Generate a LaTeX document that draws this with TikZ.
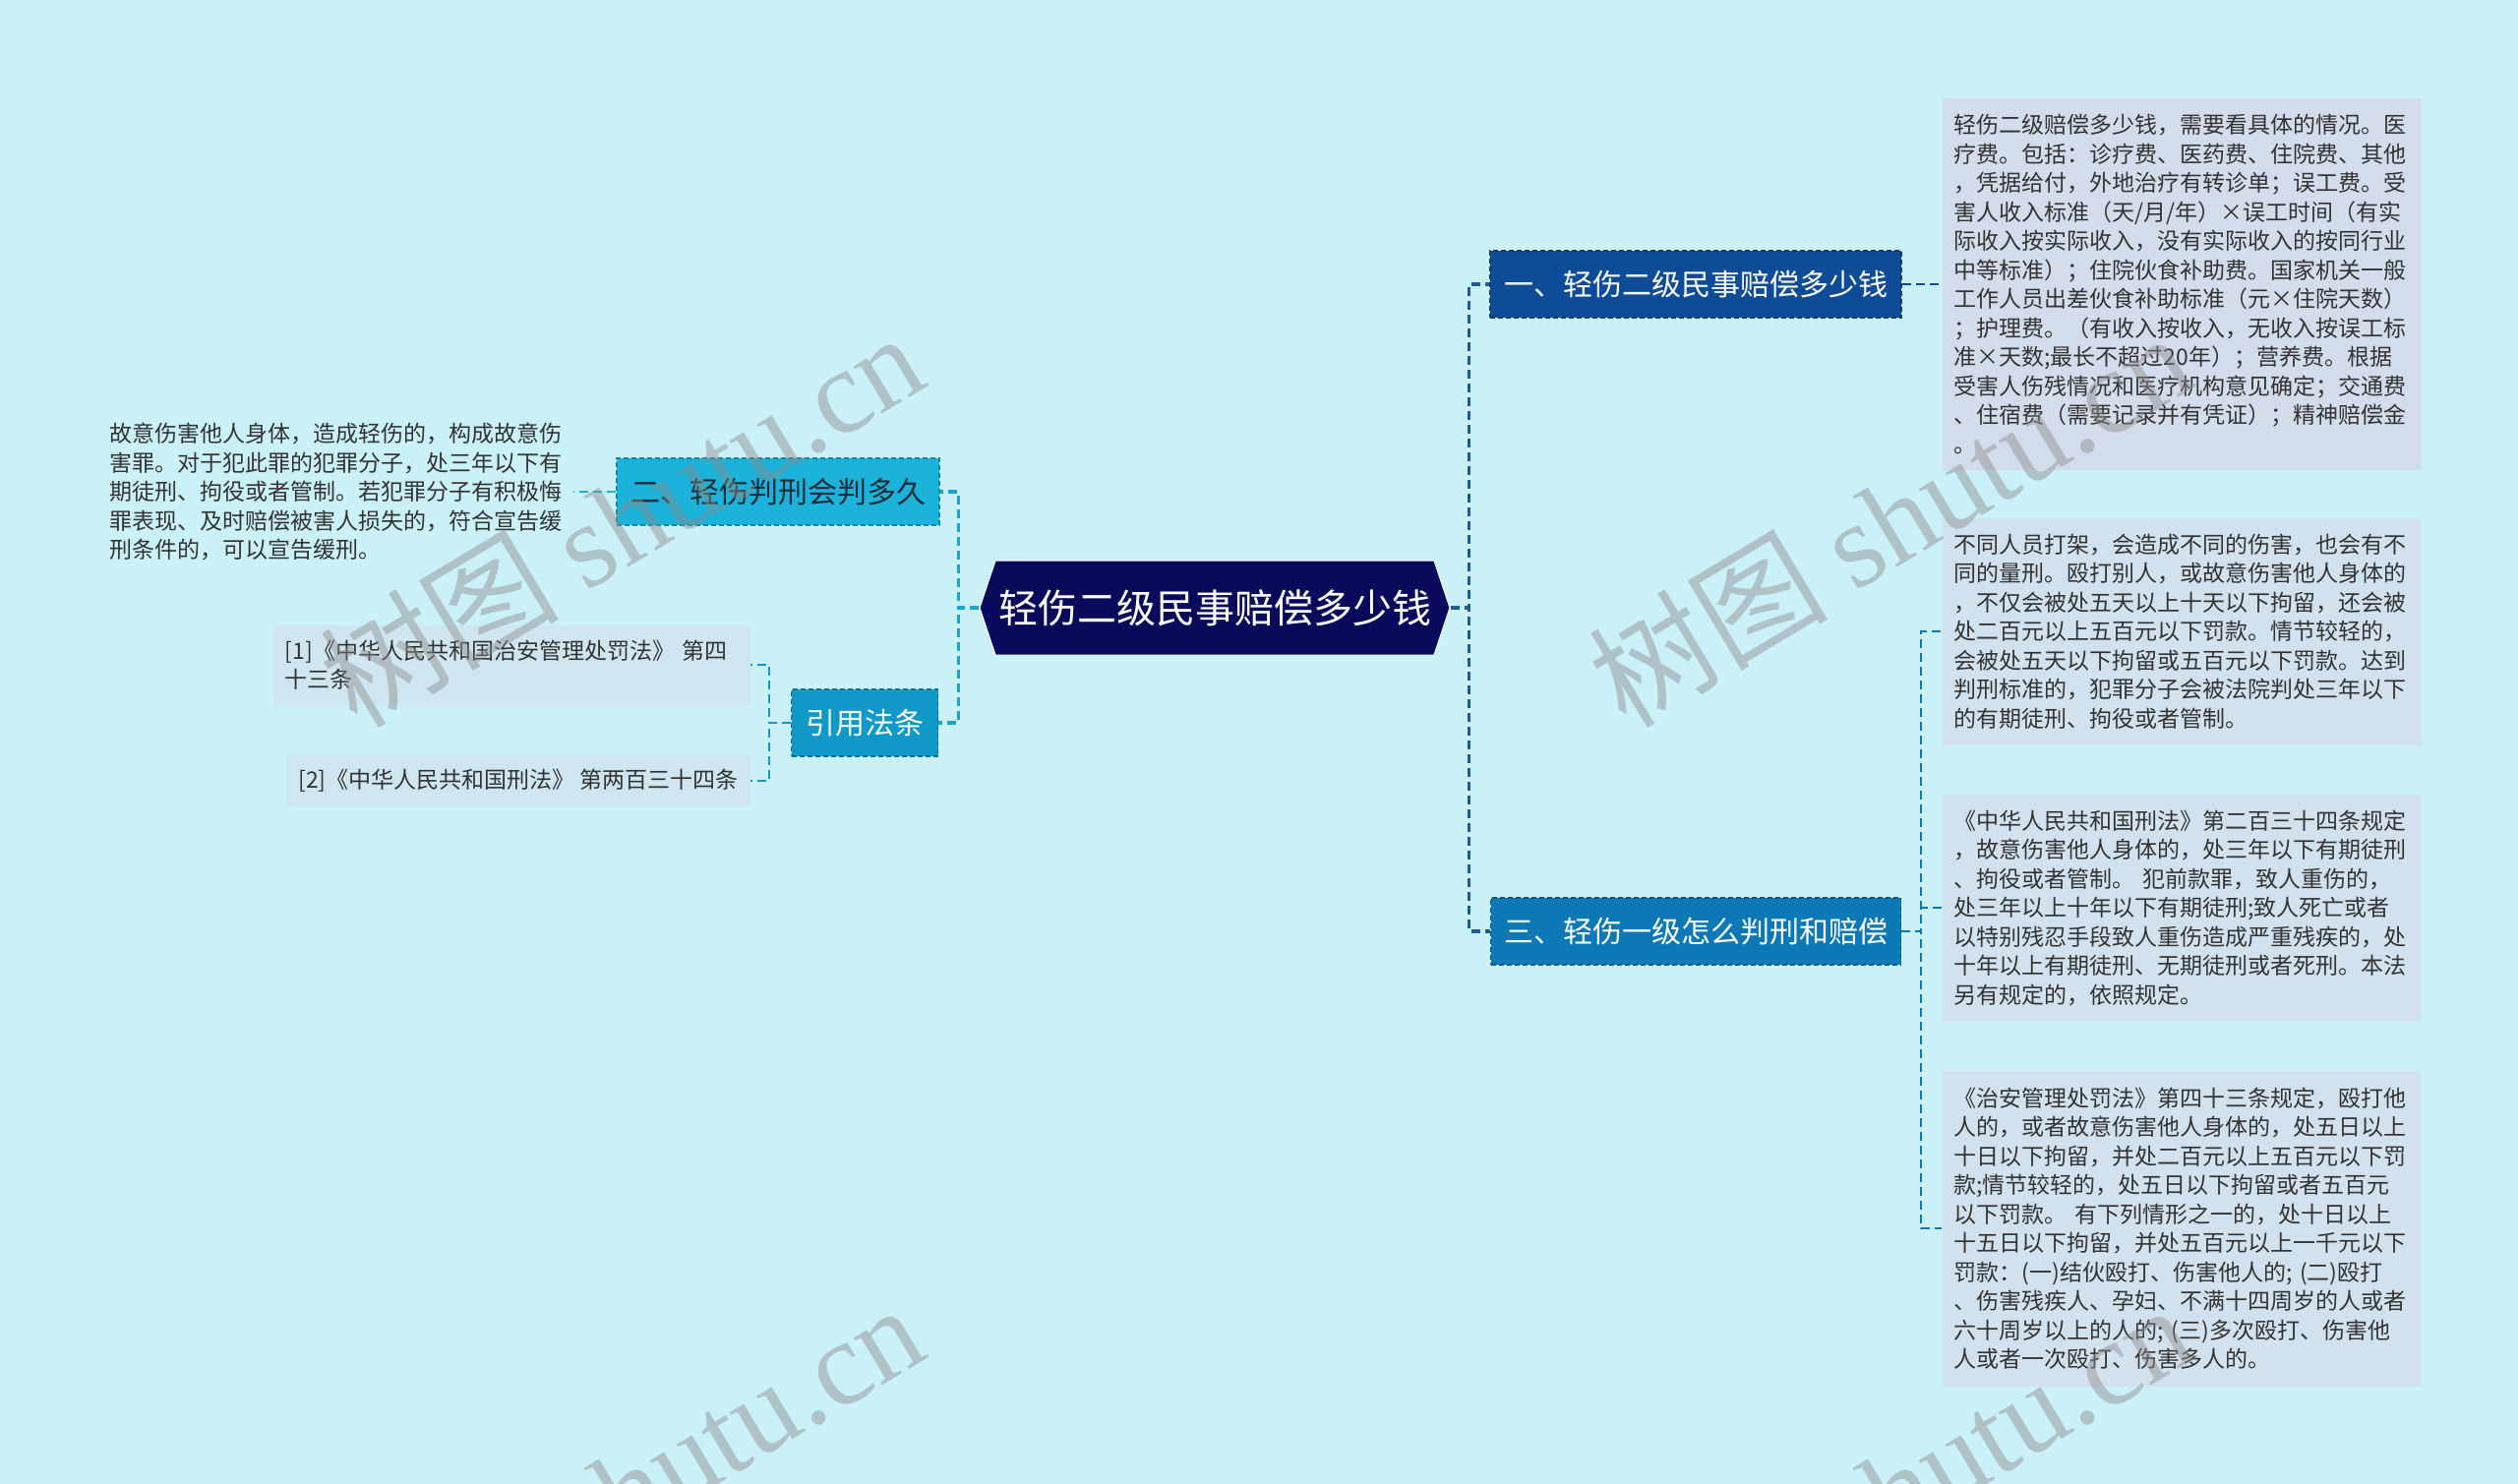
\documentclass[tikz,border=0pt]{standalone}
\usepackage{fontspec}
\usepackage{tikz}
\usetikzlibrary{shapes.symbols,positioning,calc}
\newfontfamily\cjk{Noto Sans CJK SC}
\newfontfamily\wmserif{Liberation Serif}
\definecolor{bgcyan}{HTML}{CAF0F8}
\definecolor{navyroot}{HTML}{0A0A5C}
\definecolor{deepblue}{HTML}{0F4C97}
\definecolor{seablue}{HTML}{0C78B6}
\definecolor{skycyan}{HTML}{1BB3DA}
\definecolor{lawblue}{HTML}{0F98C8}
\definecolor{leafgrey}{HTML}{D3DCEB}
\definecolor{leafblue}{HTML}{D1E2EE}
\definecolor{citecyan}{HTML}{CFE6F0}
\definecolor{inktext}{HTML}{333333}
\definecolor{darkink}{HTML}{1C2B3A}
\definecolor{spineblue}{HTML}{1D5C99}
\definecolor{spinecyan}{HTML}{1BA5CC}

\begin{document}
\begin{tikzpicture}[
  x=1pt,y=-1pt,
  rootbox/.style={signal,signal to=east and west,signal pointer angle=143,
                  fill=navyroot,draw=white,line width=1pt,
                  minimum width=478pt,minimum height=96pt,inner sep=0pt,
                  font=\cjk\fontsize{40}{48}\selectfont,text=white},
  topic/.style={rectangle,fill=#1,draw=#1!75!black,line width=1.5pt,
                dash pattern=on 5pt off 3pt,minimum height=68pt,inner sep=0pt,
                font=\cjk\fontsize{30}{36}\selectfont,text=white},
  leaf/.style={rectangle,fill=#1,inner xsep=12pt,inner ysep=8pt,
               font=\cjk\fontsize{23}{29.5}\selectfont,text=inktext},
  para/.style={text width=#1,align=left},
  para/.default=463pt,
  edgeline/.style={draw=#1,line width=2pt,dash pattern=on 9pt off 5pt},
  spineline/.style={draw=#1,line width=3.5pt,dash pattern=on 9pt off 5pt},
  wmark/.style={rotate=31,anchor=south west,inner sep=0pt,
                text=black!45,text opacity=0.45}
]
\useasboundingbox (0,0) rectangle (2560,1509);
\clip (0,0) rectangle (2560,1509);
\fill[bgcyan] (0,0) rectangle (2560,1509);

%% -- centre and main topics --
\node[rootbox] (root) at (1235,618) {轻伤二级民事赔偿多少钱};
\node[topic=deepblue, minimum width=418pt] (B1) at (1724,289) {一、轻伤二级民事赔偿多少钱};
\node[topic=seablue,  minimum width=417pt] (B3) at (1724,947) {三、轻伤一级怎么判刑和赔偿};
\node[topic=skycyan,  minimum width=328pt, text=darkink] (B2) at (791,500) {二、轻伤判刑会判多久};
\node[topic=lawblue,  minimum width=149pt] (B4) at (879,735) {引用法条};

%% -- right leaves --
\node[leaf=leafgrey, para, minimum height=377pt] (L1) at (2218,289) {轻伤二级赔偿多少钱，需要看具体的情况。医\\
疗费。包括：诊疗费、医药费、住院费、其他\\
，凭据给付，外地治疗有转诊单；误工费。受\\
害人收入标准（天/月/年）×误工时间（有实\\
际收入按实际收入，没有实际收入的按同行业\\
中等标准）；住院伙食补助费。国家机关一般\\
工作人员出差伙食补助标准（元×住院天数）\\
；护理费。（有收入按收入，无收入按误工标\\
准×天数;最长不超过20年）；营养费。根据\\
受害人伤残情况和医疗机构意见确定；交通费\\
、住宿费（需要记录并有凭证）；精神赔偿金\\
。};
\node[leaf=leafblue, para, minimum height=231pt] (L2) at (2218,642) {不同人员打架，会造成不同的伤害，也会有不\\
同的量刑。殴打别人，或故意伤害他人身体的\\
，不仅会被处五天以上十天以下拘留，还会被\\
处二百元以上五百元以下罚款。情节较轻的，\\
会被处五天以下拘留或五百元以下罚款。达到\\
判刑标准的，犯罪分子会被法院判处三年以下\\
的有期徒刑、拘役或者管制。};
\node[leaf=leafblue, para, minimum height=231pt] (L3) at (2218,923) {《中华人民共和国刑法》第二百三十四条规定\\
，故意伤害他人身体的，处三年以下有期徒刑\\
、拘役或者管制。 犯前款罪，致人重伤的，\\
处三年以上十年以下有期徒刑;致人死亡或者\\
以特别残忍手段致人重伤造成严重残疾的，处\\
十年以上有期徒刑、无期徒刑或者死刑。本法\\
另有规定的，依照规定。};
\node[leaf=leafblue, para, minimum height=321pt] (L4) at (2218,1249) {《治安管理处罚法》第四十三条规定，殴打他\\
人的，或者故意伤害他人身体的，处五日以上\\
十日以下拘留，并处二百元以上五百元以下罚\\
款;情节较轻的，处五日以下拘留或者五百元\\
以下罚款。 有下列情形之一的，处十日以上\\
十五日以下拘留，并处五百元以上一千元以下\\
罚款：(一)结伙殴打、伤害他人的; (二)殴打\\
、伤害残疾人、孕妇、不满十四周岁的人或者\\
六十周岁以上的人的; (三)多次殴打、伤害他\\
人或者一次殴打、伤害多人的。};

%% -- left leaves --
\node[leaf=bgcyan, para, inner xsep=8pt] (T2) at (343,500) {故意伤害他人身体，造成轻伤的，构成故意伤\\
害罪。对于犯此罪的犯罪分子，处三年以下有\\
期徒刑、拘役或者管制。若犯罪分子有积极悔\\
罪表现、及时赔偿被害人损失的，符合宣告缓\\
刑条件的，可以宣告缓刑。};
\node[leaf=citecyan, para=461pt, minimum height=81pt, anchor=east] (C1) at (763,676)
  {[1]《中华人民共和国治安管理处罚法》 第四\\十三条};
\node[leaf=citecyan, minimum height=52pt, anchor=east] (C2) at (763,794)
  {[2]《中华人民共和国刑法》 第两百三十四条};

%% -- connectors --
\draw[spineline=spineblue] (root.east) -- ++(19,0) |- (B1.west);
\draw[spineline=spineblue] (root.east) -- ++(19,0) |- (B3.west);
\draw[spineline=spinecyan] (root.west) -- ++(-21,0) |- (B2.east);
\draw[spineline=spinecyan] (root.west) -- ++(-21,0) |- (B4.east);

\draw[edgeline=deepblue] (B1.east) -- (L1.west);
\draw[edgeline=seablue] (B3.east) -- ++(20,0) |- (L2.west);
\draw[edgeline=seablue] (B3.east) -- ++(20,0) |- (L3.west);
\draw[edgeline=seablue] (B3.east) -- ++(20,0) |- (L4.west);

\draw[edgeline=skycyan] (B2.west) -- (T2.east);
\draw[edgeline=lawblue] (B4.west) -- ++(-22,0) |- (C1.east);
\draw[edgeline=lawblue] (B4.west) -- ++(-22,0) |- (C2.east);

%% -- watermarks --
\foreach \wx/\wy [count=\i] in {368/751,1658/751,368/1739,1658/1739}
  \node[wmark] (wm\i) at (\wx,\wy)
    {\cjk\fontsize{122}{122}\selectfont 树图 \wmserif shutu.cn};

\end{tikzpicture}
\end{document}
